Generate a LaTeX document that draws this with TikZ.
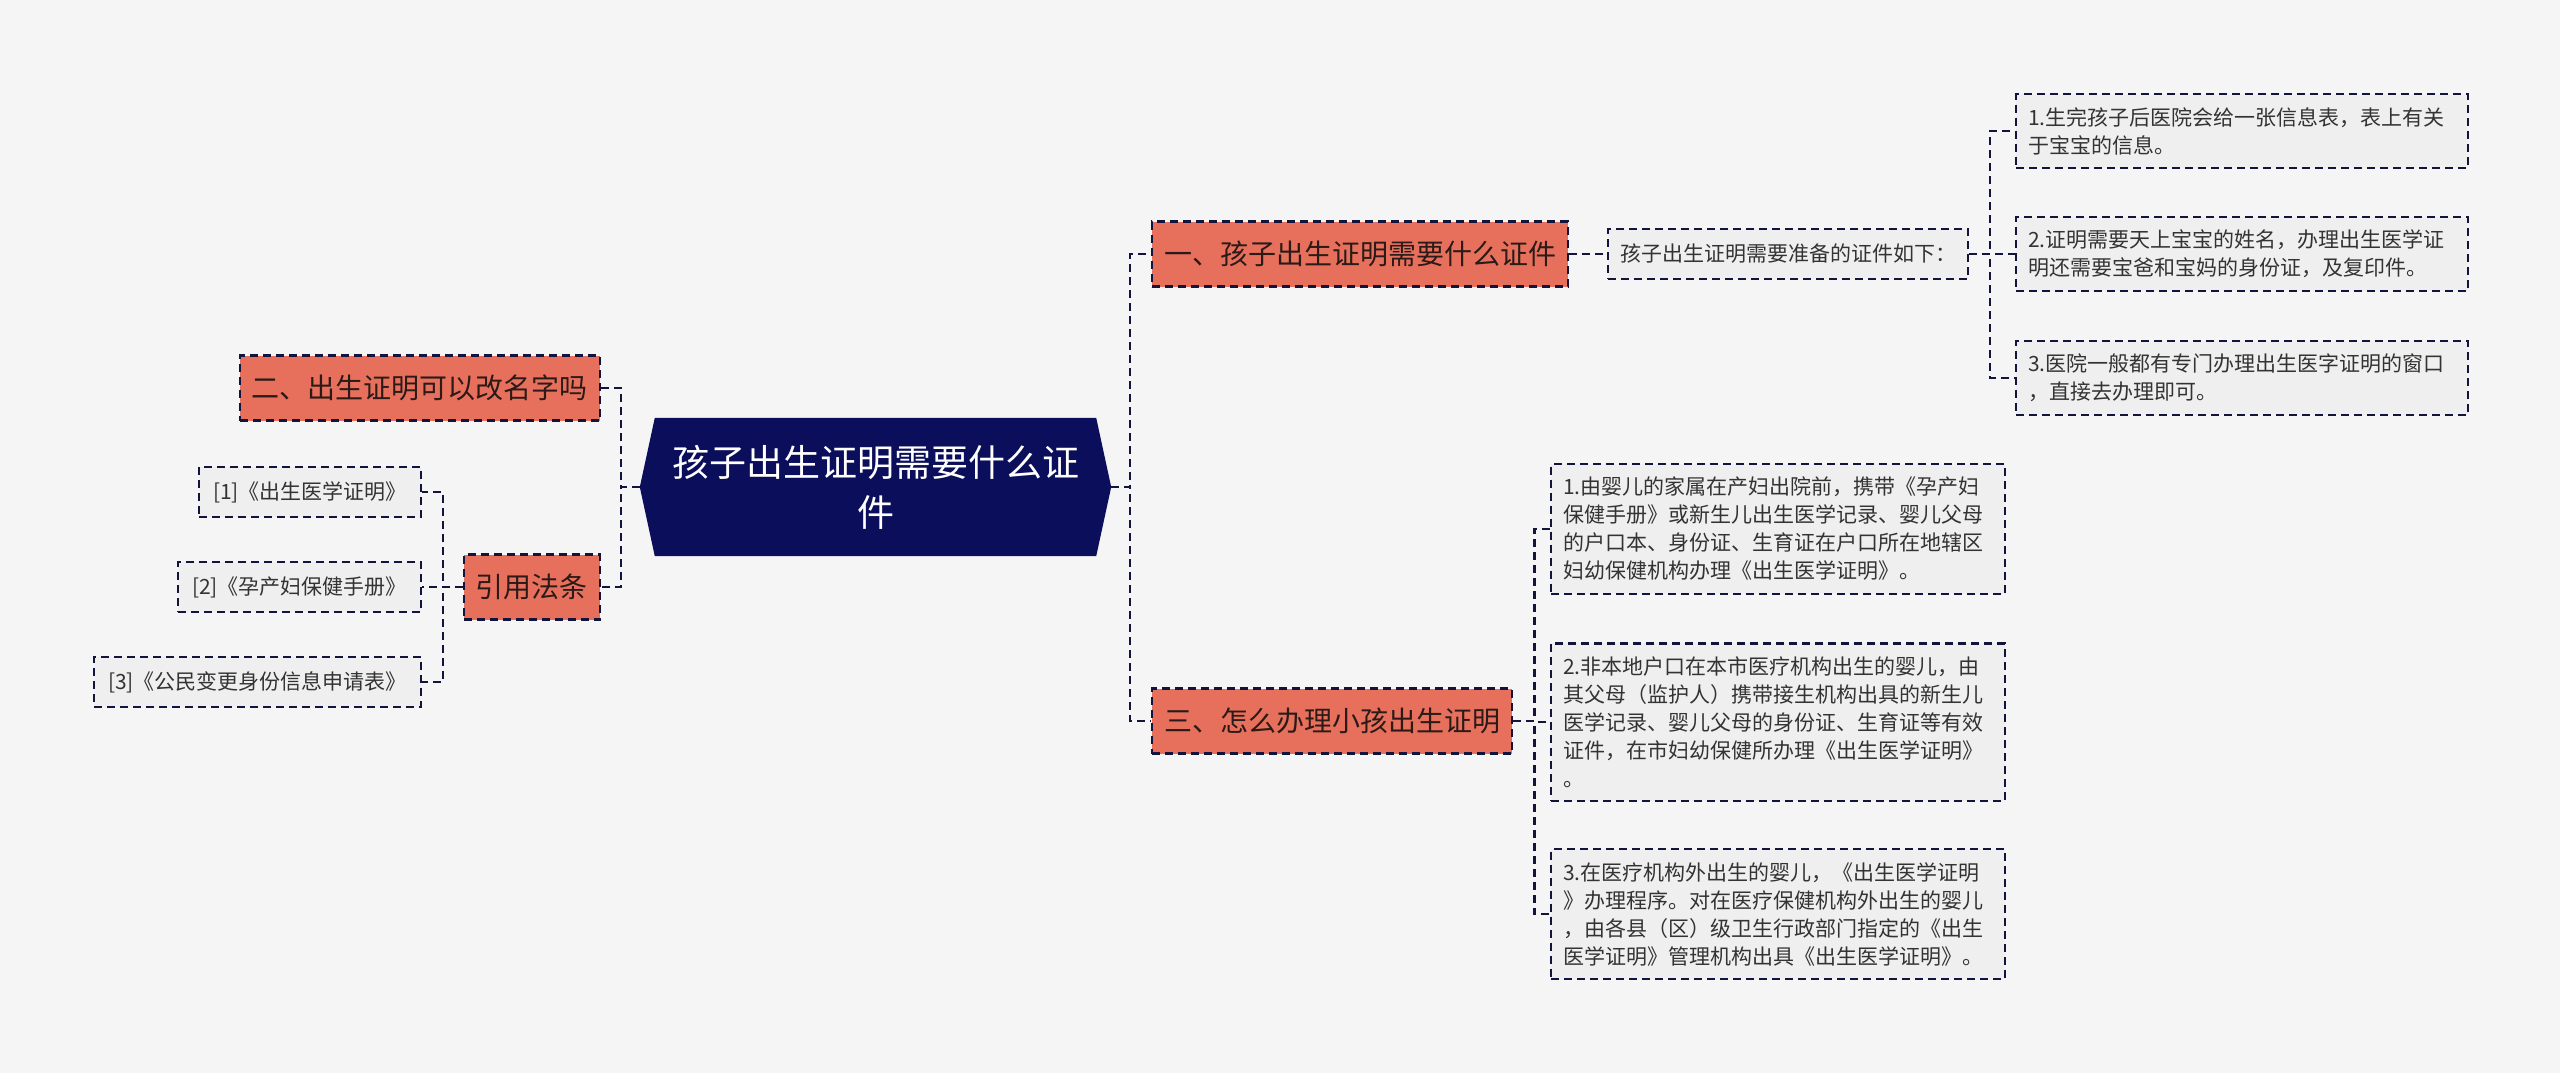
\documentclass[tikz,border=0pt]{standalone}
\usepackage{fontspec}
\setmainfont{Noto Sans CJK SC}
\usetikzlibrary{backgrounds}
\definecolor{bgc}{HTML}{F5F5F5}
\definecolor{navyc}{HTML}{0B0E5A}
\definecolor{linec}{HTML}{12143C}
\definecolor{salm}{HTML}{E7705C}
\definecolor{ltext}{HTML}{2B1A17}
\definecolor{boxc}{HTML}{EFEFEF}
\definecolor{ttext}{HTML}{333333}
\begin{document}
\begin{tikzpicture}[x=1pt,y=-1pt,
  conn/.style={draw=linec, line width=2.2pt, dash pattern=on 8pt off 5pt},
  rootn/.style={minimum width=471pt, minimum height=138pt, inner sep=0pt, text=white,
    font=\fontsize{37}{50}\selectfont, align=center},
  lone/.style={fill=salm, draw=linec, line width=2.4pt, dash pattern=on 8pt off 5pt,
    text=ltext, font=\fontsize{28}{34}\selectfont, inner xsep=12pt, inner ysep=0pt, minimum height=65pt},
  ltwo/.style={fill=boxc, draw=linec, line width=2.1pt, dash pattern=on 8pt off 5pt,
    text=ttext, font=\fontsize{21}{28}\selectfont, inner xsep=12pt, inner ysep=13pt, align=left},
  lsing/.style={ltwo, inner ysep=0pt, minimum height=50pt},
]
\useasboundingbox (0,0) rectangle (2560,1073);

% root
\node[rootn] (root) at (875.5,487) {孩子出生证明需要什么证\\件};

% left side
\node[lone, anchor=east] (n2) at (601,388) {二、出生证明可以改名字吗};
\node[lone, anchor=east] (cite) at (601,587) {引用法条};
\node[lsing, anchor=east, inner xsep=14pt] (ref1) at (422,492) {[1]《出生医学证明》};
\node[lsing, anchor=east, inner xsep=14pt] (ref2) at (422,587) {[2]《孕产妇保健手册》};
\node[lsing, anchor=east, inner xsep=14pt] (ref3) at (422,682) {[3]《公民变更身份信息申请表》};

% right side, branch one
\node[lone, anchor=west] (n1) at (1151,254) {一、孩子出生证明需要什么证件};
\node[lsing, anchor=west] (n1a) at (1607,254) {孩子出生证明需要准备的证件如下：};
\node[ltwo, anchor=west, text width=428pt] (r1) at (2015,131)
  {1.生完孩子后医院会给一张信息表，表上有关\\于宝宝的信息。};
\node[ltwo, anchor=west, text width=428pt] (r2) at (2015,254)
  {2.证明需要天上宝宝的姓名，办理出生医学证\\明还需要宝爸和宝妈的身份证，及复印件。};
\node[ltwo, anchor=west, text width=428pt] (r3) at (2015,378)
  {3.医院一般都有专门办理出生医字证明的窗口\\，直接去办理即可。};

% right side, branch three
\node[lone, anchor=west] (n3) at (1151,721) {三、怎么办理小孩出生证明};
\node[ltwo, anchor=west, text width=430pt] (b1) at (1550,529)
  {1.由婴儿的家属在产妇出院前，携带《孕产妇\\保健手册》或新生儿出生医学记录、婴儿父母\\的户口本、身份证、生育证在户口所在地辖区\\妇幼保健机构办理《出生医学证明》。};
\node[ltwo, anchor=west, text width=430pt] (b2) at (1550,722)
  {2.非本地户口在本市医疗机构出生的婴儿，由\\其父母（监护人）携带接生机构出具的新生儿\\医学记录、婴儿父母的身份证、生育证等有效\\证件，在市妇幼保健所办理《出生医学证明》\\。};
\node[ltwo, anchor=west, text width=430pt] (b3) at (1550,914)
  {3.在医疗机构外出生的婴儿，《出生医学证明\\》办理程序。对在医疗保健机构外出生的婴儿\\，由各县（区）级卫生行政部门指定的《出生\\医学证明》管理机构出具《出生医学证明》。};

\begin{scope}[on background layer]
  \fill[bgc] (0,0) rectangle (2560,1073);
  \fill[navyc] (root.west) -- ([xshift=15pt]root.north west) -- ([xshift=-15pt]root.north east)
    -- (root.east) -- ([xshift=-15pt]root.south east) -- ([xshift=15pt]root.south west) -- cycle;
  % connectors
  \draw[conn] (root.east) -- ++(19,0) |- (n1.west);
  \draw[conn] (root.east) -- ++(19,0) |- (n3.west);
  \draw[conn] (root.west) -- ++(-19,0) |- (n2.east);
  \draw[conn] (root.west) -- ++(-19,0) |- (cite.east);
  \draw[conn] (cite.west) -- ++(-20,0) |- (ref1.east);
  \draw[conn] (cite.west) -- ++(-20,0) |- (ref2.east);
  \draw[conn] (cite.west) -- ++(-20,0) |- (ref3.east);
  \draw[conn] (n1.east) -- (n1a.west);
  \draw[conn] (n1a.east) -- ++(21,0) |- (r1.west);
  \draw[conn] (n1a.east) -- ++(21,0) |- (r2.west);
  \draw[conn] (n1a.east) -- ++(21,0) |- (r3.west);
  \draw[conn] (n3.east) -- ++(21,0) |- (b1.west);
  \draw[conn] (n3.east) -- ++(21,0) |- (b2.west);
  \draw[conn] (n3.east) -- ++(21,0) |- (b3.west);
\end{scope}
\end{tikzpicture}
\end{document}
